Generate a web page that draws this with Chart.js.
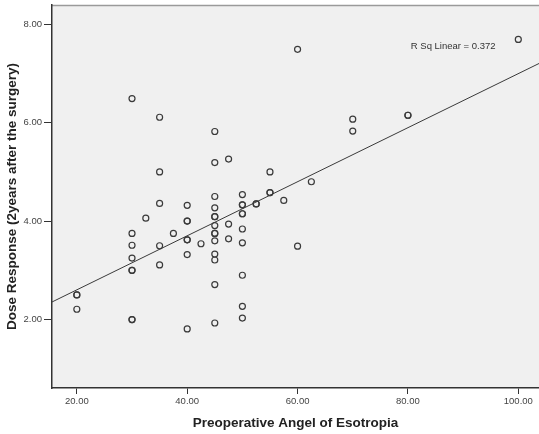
<!DOCTYPE html>
<html>
<head>
<meta charset="utf-8">
<script src="https://cdn.jsdelivr.net/npm/chart.js@4"></script>
<style>
  html, body { margin: 0; padding: 0; background: #fff; overflow: hidden; }
  #wrap { width: 539px; height: 434px; }
</style>
</head>
<body>
<div id="wrap"><canvas id="myChart"></canvas></div>
<script>
  // values (duplicates = overlapping markers)
  const angleX = [
    20, 20, 20,
    30, 30, 30, 30, 30, 30, 30, 30,
    32.5,
    35, 35, 35, 35, 35,
    37.5,
    40, 40, 40, 40, 40, 40, 40,
    42.5,
    45, 45, 45, 45, 45, 45, 45, 45, 45, 45, 45, 45, 45, 45,
    47.5, 47.5, 47.5,
    50, 50, 50, 50, 50, 50, 50, 50, 50, 50,
    52.5, 52.5,
    55, 55, 55,
    57.5,
    60, 60,
    62.5,
    70, 70,
    80, 80,
    100
  ];
  const doseY = [
    2.50, 2.50, 2.21,
    6.49, 3.75, 3.51, 3.25, 3.00, 3.00, 2.00, 2.00,
    4.06,
    6.11, 5.00, 4.36, 3.50, 3.11,
    3.75,
    4.32, 4.00, 4.00, 3.62, 3.62, 3.32, 1.81,
    3.54,
    5.82, 5.19, 4.50, 4.27, 4.09, 4.09, 3.91, 3.75, 3.75, 3.60, 3.33, 3.21, 2.71, 1.93,
    5.26, 3.94, 3.64,
    4.54, 4.33, 4.33, 4.15, 4.15, 3.84, 3.56, 2.90, 2.27, 2.03,
    4.35, 4.35,
    5.00, 4.58, 4.58,
    4.42,
    7.49, 3.49,
    4.80,
    6.07, 5.83,
    6.15, 6.15,
    7.69
  ];
  const xTicks = [20, 40, 60, 80, 100];
  const yTicks = [2, 4, 6, 8];
  const xRange = [15.5, 103.75];
  const yRange = [0.61, 8.39];

  // fit line as shown (intercept, slope)
  const fitIntercept = 1.506;
  const fitSlope = 0.0549;
  const rSqLabel = 'R Sq Linear = 0.372';

  const points = angleX.map((x, i) => ({ x: x, y: doseY[i] }));
  const fitLine = xRange.map(x => ({ x: x, y: fitIntercept + fitSlope * x }));

  const FONT = "'Liberation Sans', Arial, sans-serif";

  const plotBg = {
    id: 'plotBg',
    beforeDraw(chart) {
      const { ctx, chartArea: a } = chart;
      ctx.save();
      ctx.fillStyle = '#f0f0f0';
      ctx.fillRect(a.left, a.top, a.right - a.left, a.bottom - a.top);
      ctx.strokeStyle = '#9a9a9a';
      ctx.lineWidth = 1.5;
      ctx.beginPath();
      ctx.moveTo(a.left, a.top + 0.5);
      ctx.lineTo(a.right, a.top + 0.5);
      ctx.stroke();
      ctx.restore();
    },
    afterDatasetsDraw(chart) {
      const { ctx, scales } = chart;
      ctx.save();
      ctx.font = '9.5px ' + FONT;
      ctx.fillStyle = '#333';
      ctx.textAlign = 'center';
      ctx.textBaseline = 'middle';
      ctx.fillText(rSqLabel, scales.x.getPixelForValue(88.2), scales.y.getPixelForValue(7.55));
      ctx.restore();
    }
  };

  const ctx = document.getElementById('myChart').getContext('2d');

  const myChart = new Chart(ctx, {
    type: 'scatter',
    data: {
      datasets: [
        {
          label: 'fit',
          type: 'line',
          data: fitLine,
          borderColor: '#3a3a3a',
          borderWidth: 1,
          pointRadius: 0,
          fill: false,
          order: 2
        },
        {
          label: 'Dose Response',
          data: points,
          pointRadius: 3,
          pointBorderWidth: 1.2,
          pointBorderColor: '#3a3a3a',
          pointBackgroundColor: 'rgba(0,0,0,0)',
          order: 1
        }
      ]
    },
    options: {
      responsive: true,
      maintainAspectRatio: false,
      animation: false,
      layout: { autoPadding: false, padding: { top: 5, right: 0, left: 0, bottom: 0 } },
      plugins: {
        legend: { display: false },
        tooltip: { enabled: false }
      },
      scales: {
        x: {
          type: 'linear',
          min: xRange[0],
          max: xRange[1],
          afterBuildTicks: s => { s.ticks = xTicks.map(v => ({ value: v })); },
          afterFit: s => { s.height = 46; s.paddingLeft = 0; s.paddingRight = 0; },
          grid: { drawOnChartArea: false, drawTicks: true, tickLength: 6, tickColor: '#333', lineWidth: 1 },
          border: { color: '#333', width: 1.5 },
          ticks: {
            color: '#444',
            font: { family: FONT, size: 9.5 },
            padding: 2,
            maxRotation: 0,
            callback: v => Number(v).toFixed(2)
          },
          title: {
            display: true,
            text: 'Preoperative Angel of Esotropia',
            color: '#222',
            font: { family: FONT, size: 13.5, weight: 'bold' },
            padding: { top: 0, bottom: 3 }
          }
        },
        y: {
          type: 'linear',
          min: yRange[0],
          max: yRange[1],
          afterBuildTicks: s => { s.ticks = yTicks.map(v => ({ value: v })); },
          afterFit: s => { s.width = 52; s.paddingTop = 0; s.paddingBottom = 0; },
          grid: { drawOnChartArea: false, drawTicks: true, tickLength: 8, tickColor: '#333', lineWidth: 1 },
          border: { color: '#333', width: 1.5 },
          ticks: {
            color: '#444',
            font: { family: FONT, size: 9.5 },
            padding: 2,
            callback: v => Number(v).toFixed(2)
          },
          title: {
            display: true,
            text: 'Dose Response (2years after the surgery)',
            color: '#222',
            font: { family: FONT, size: 13.5, weight: 'bold' },
            padding: { top: 4, bottom: 0 }
          }
        }
      }
    },
    plugins: [plotBg]
  });
</script>
</body>
</html>
